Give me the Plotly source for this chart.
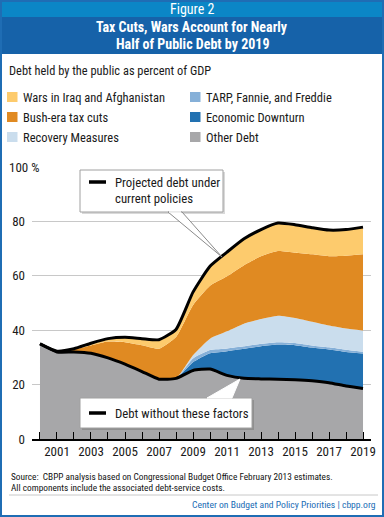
import plotly.graph_objects as go
import numpy as np

years = list(range(2000, 2020))
other_debt = [35, 32, 32, 31.5, 29.8, 27.5, 24.8, 22, 22.3, 25.2, 25.7, 23.4, 22.3, 22.1, 22, 21.8, 21.4, 20.7, 19.5, 18.6]
economic_downturn = [0, 0, 0, 0, 0, 0, 0, 0, 0, 3.0, 5.8, 8.9, 10.9, 12.0, 12.7, 12.7, 12.2, 12.2, 12.5, 12.8]
tarp = [0, 0, 0, 0, 0, 0, 0, 0, 0, 1.4, 1.2, 1.0, 0.9, 0.9, 0.9, 0.8, 0.8, 0.8, 0.8, 0.7]
recovery = [0, 0, 0, 0, 0, 0, 0, 0, 0, 1.2, 4.2, 6.3, 8.3, 9.1, 9.7, 9.2, 8.7, 8.0, 7.8, 7.8]
bush_tax_cuts = [0, 0.3, 0.9, 2.9, 6.0, 8.1, 9.7, 11.2, 15.2, 18.4, 19.4, 20.2, 21.5, 23.1, 23.8, 24.0, 24.8, 25.5, 26.8, 28.0]
wars = [0, 0, 0.3, 0.8, 1.1, 1.8, 2.4, 3.3, 2.8, 4.8, 7.2, 8.9, 9.7, 9.8, 10.3, 10.3, 9.8, 9.6, 9.6, 10.0]

y_tickvals = [0, 20, 40, 60, 80, 100]
y_ticktext = ["0", "20", "40", "60", "80", ""]
y_top_label = "100 %"

series = [
    ("Other Debt", other_debt, "#a7a7a9"),
    ("Economic Downturn", economic_downturn, "#2271b1"),
    ("TARP, Fannie, and Freddie", tarp, "#86b0d8"),
    ("Recovery Measures", recovery, "#cadded"),
    ("Bush-era tax cuts", bush_tax_cuts, "#e08a22"),
    ("Wars in Iraq and Afghanistan", wars, "#fdcb6d"),
]

total = np.sum([np.array(s[1]) for s in series], axis=0)

W, H = 384, 517
L, R, T, B = 32, 13, 167, 78
PW, PH = W - L - R, H - T - B

def px(x):
    return (x - L) / PW

def py(y):
    return (H - B - y) / PH

FONT = "Liberation Sans Narrow, Roboto Condensed, Arial Narrow, Roboto, sans-serif"

fig = go.Figure()
for name, vals, col in series:
    fig.add_trace(go.Scatter(
        x=years, y=vals, name=name, stackgroup="one", mode="lines",
        line=dict(width=0, shape="spline", smoothing=0.5), fillcolor=col,
        showlegend=False, hoverinfo="skip"))

fig.add_trace(go.Scatter(x=years, y=total, mode="lines",
                         line=dict(color="black", width=3, shape="spline", smoothing=0.5),
                         showlegend=False, hoverinfo="skip"))
fig.add_trace(go.Scatter(x=years, y=other_debt, mode="lines",
                         line=dict(color="black", width=3, shape="spline", smoothing=0.5),
                         showlegend=False, hoverinfo="skip"))

shapes = []
annotations = []

def rect(x0, y0, x1, y1, fill, line=None, lw=0, layer="above"):
    shapes.append(dict(type="rect", xref="paper", yref="paper",
                       x0=px(x0), x1=px(x1), y0=py(y1), y1=py(y0),
                       fillcolor=fill, line=dict(color=line or fill, width=lw), layer=layer))

def path(pts, fill, line, lw=1):
    d = "M " + " L ".join(f"{px(a)},{py(b)}" for a, b in pts) + " Z"
    shapes.append(dict(type="path", xref="paper", yref="paper", path=d,
                       fillcolor=fill, line=dict(color=line, width=lw), layer="above"))

def hline(x0, x1, y, color, lw):
    shapes.append(dict(type="line", xref="paper", yref="paper",
                       x0=px(x0), x1=px(x1), y0=py(y), y1=py(y),
                       line=dict(color=color, width=lw), layer="above"))

def text(x, y, s, size=12, color="#1a1a1a", anchor="left", bold=False, family=FONT):
    if bold:
        s = f"<b>{s}</b>"
    annotations.append(dict(xref="paper", yref="paper", x=px(x), y=py(y), text=s,
                            showarrow=False, xanchor=anchor, yanchor="middle",
                            font=dict(size=size, color=color, family=family)))

# header
rect(0, 0, 384, 17, "#0b86c6")
rect(0, 17, 384, 54, "#1662a9")
text(192, 9, "Figure 2", size=14, color="white", anchor="center")
text(192, 27, "Tax Cuts, Wars Account for Nearly", size=14, color="white", anchor="center", bold=True)
text(192, 44, "Half of Public Debt by 2019", size=14, color="white", anchor="center", bold=True)

# subtitle
text(7, 71, "Debt held by the public as percent of GDP", size=12.4)

# legend
legend_items = [
    (7, 97, "Wars in Iraq and Afghanistan", "#fdcb6d"),
    (7, 117, "Bush-era tax cuts", "#e08a22"),
    (7, 137, "Recovery Measures", "#cadded"),
    (190, 97, "TARP, Fannie, and Freddie", "#86b0d8"),
    (190, 117, "Economic Downturn", "#2271b1"),
    (190, 137, "Other Debt", "#a7a7a9"),
]
for x, y, s, c in legend_items:
    rect(x, y - 5, x + 10.5, y + 5, c)
    text(x + 14, y, s, size=12.5)

# top y label and shortened top gridline start
hline(32, 39.5, 167, "white", 2)
annotations.append(dict(xref="paper", yref="y", x=px(7), y=100, text=y_top_label,
                        showarrow=False, xanchor="left", yanchor="middle",
                        font=dict(size=13, color="#1a1a1a", family=FONT)))

# callout 1
rect(82, 172, 225, 214, "#d9d9d9")
rect(80, 170, 223, 212, "white", "#a0a0a0", 1)
path([(168, 212), (222, 257), (182, 212)], "white", "#8a8a8a", 1)
hline(169, 181, 212, "white", 1.5)
hline(89, 106, 182, "black", 3.5)
text(113, 182, "Projected debt under", size=12.8)
text(113, 198, "current policies", size=12.8)

# callout 2
rect(82, 400, 254, 430, "#8f8f8f")
rect(80, 398, 252, 428, "white", "#a0a0a0", 1)
path([(207, 398), (240, 379), (232, 398)], "white", "white", 1)
hline(89, 106, 413, "black", 3.5)
text(113, 413, "Debt without these factors", size=12.8)

# footer
text(9, 476, "Source:  CBPP analysis based on Congressional Budget Office February 2013 estimates.", size=9.3, color="#111")
text(9, 487, "All components include the associated debt-service costs.", size=9.3, color="#111")
hline(9, 378, 495, "#c8c8c8", 1)
text(378, 504, "Center on Budget and Policy Priorities | cbpp.org", size=9.6, color="#1a6cb5", anchor="right")

# border
shapes.append(dict(type="rect", xref="paper", yref="paper",
                   x0=px(1), x1=px(383), y0=py(516), y1=py(1),
                   line=dict(color="#1f6db4", width=2), fillcolor="rgba(0,0,0,0)", layer="above"))

fig.update_layout(
    width=W, height=H, margin=dict(l=L, r=R, t=T, b=B, pad=0, autoexpand=False),
    paper_bgcolor="white", plot_bgcolor="white",
    shapes=shapes, annotations=annotations,
    font=dict(family=FONT, color="#1a1a1a"),
    xaxis=dict(range=[1999.53, 2019.47], tick0=2001, dtick=2, ticks="inside", ticklen=7,
               tickcolor="black", tickwidth=1, showgrid=False, showline=True, linecolor="black",
               linewidth=1.5, tickfont=dict(size=13, family=FONT, color="#1a1a1a"),
               minor=dict(dtick=1, tick0=2000, ticks="inside", ticklen=7, tickcolor="black", tickwidth=1),
               fixedrange=True, zeroline=False, automargin=False),
    yaxis=dict(range=[0, 100], tickvals=y_tickvals, ticktext=y_ticktext, showgrid=True,
               gridcolor="#c8c8c8", gridwidth=1, ticks="", zeroline=False, showline=False,
               tickfont=dict(size=13, family=FONT, color="#1a1a1a"), ticklabelstandoff=6,
               fixedrange=True, automargin=False),
)

fig.write_html(
    "out.html",
    config={"displayModeBar": False},
    post_script="document.body.style.margin='0';document.body.style.padding='0';"
                "document.documentElement.style.overflow='hidden';",
)
